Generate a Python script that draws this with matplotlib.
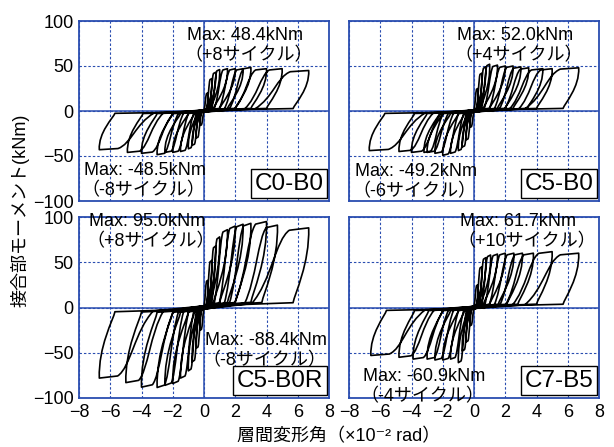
import matplotlib
matplotlib.use("Agg")
import matplotlib.pyplot as plt
from matplotlib.path import Path
from matplotlib.patches import PathPatch

plt.rcParams['font.family'] = ['Liberation Sans', 'Noto Sans CJK JP', 'DejaVu Sans']

# ---- data ----
specimens = ["C0-B0", "C5-B0", "C5-B0R", "C7-B5"]

# peak drift (x10^-2 rad) and peak moment (kNm) of each cycle
c0b0_pos_d = [0.25, 0.5, 0.75, 1.0, 1.5, 2.0, 2.5, 3.0, 4.0, 5.0, 6.7]
c0b0_pos_m = [20, 36, 43, 46, 47, 47, 47, 48.4, 47, 47, 45]
c0b0_neg_d = [-0.25, -0.5, -0.75, -1.0, -1.5, -2.0, -2.5, -3.0, -4.0, -4.9, -6.7]
c0b0_neg_m = [-16, -30, -38, -42, -45, -46, -46, -48.5, -47, -46, -43]

c5b0_pos_d = [0.25, 0.5, 0.75, 1.0, 1.5, 2.0, 2.5, 3.0, 3.5, 4.4, 5.0, 6.7]
c5b0_pos_m = [25, 42, 49, 52.0, 51, 50, 50, 49, 48, 47, 47, 48]
c5b0_neg_d = [-0.25, -0.5, -0.75, -1.0, -1.5, -2.0, -2.5, -3.0, -3.2, -4.0, -4.8, -6.7]
c5b0_neg_m = [-18, -32, -40, -44, -47, -49.2, -47, -46, -46, -46, -45, -44]

c5b0r_pos_d = [0.25, 0.5, 0.75, 1.0, 1.5, 2.0, 2.5, 3.0, 4.0, 4.7, 6.7]
c5b0r_pos_m = [30, 52, 68, 78, 86, 90, 92, 93, 95.0, 91, 88]
c5b0r_neg_d = [-0.25, -0.5, -0.75, -1.0, -1.5, -2.0, -2.5, -3.0, -4.0, -5.0, -6.7]
c5b0r_neg_m = [-25, -45, -60, -70, -78, -84, -86, -88.4, -88, -83, -78]

c7b5_pos_d = [0.25, 0.5, 0.75, 1.06, 1.5, 2.0, 2.55, 3.1, 3.8, 5.0, 6.7]
c7b5_pos_m = [25, 45, 55, 58, 59, 60, 60, 60, 60, 61.7, 60]
c7b5_neg_d = [-0.25, -0.5, -0.75, -1.0, -1.5, -2.0, -2.5, -3.0, -3.9, -4.8, -6.6]
c7b5_neg_m = [-20, -38, -48, -60.9, -57, -58, -58, -57, -57, -55, -53]

max_pos_text = ["Max: 48.4kNm", "Max: 52.0kNm", "Max: 95.0kNm", "Max: 61.7kNm"]
max_pos_cycle = ["（+8サイクル）", "（+4サイクル）", "（+8サイクル）", "（+10サイクル）"]
max_neg_text = ["Max: -48.5kNm", "Max: -49.2kNm", "Max: -88.4kNm", "Max: -60.9kNm"]
max_neg_cycle = ["（-8サイクル）", "（-6サイクル）", "（-8サイクル）", "（-4サイクル）"]

x_ticks = [-8, -6, -4, -2, 0, 2, 4, 6, 8]
y_ticks = [-100, -50, 0, 50, 100]

series = [
    (c0b0_pos_d, c0b0_pos_m, c0b0_neg_d, c0b0_neg_m),
    (c5b0_pos_d, c5b0_pos_m, c5b0_neg_d, c5b0_neg_m),
    (c5b0r_pos_d, c5b0r_pos_m, c5b0r_neg_d, c5b0r_neg_m),
    (c7b5_pos_d, c7b5_pos_m, c7b5_neg_d, c7b5_neg_m),
]


def half_cycle(sign, D, M, prev):
    """Vertices/codes of one excursion (sign=+1 positive, -1 negative)."""
    xs = 0.65 * prev
    sp = D - xs
    u = min(0.6 * D, 1.0)
    pts = [(xs, 0.05 * M),
           (xs + 0.34 * sp, 0.33 * M), (xs + 0.42 * sp, 0.85 * M), (xs + 0.66 * sp, 0.97 * M),
           (D, M),
           (D + 0.06, 0.55 * M), (D - u + 0.12, 0.18 * M), (D - u, 0.06 * M),
           (0.0, 0.02 * M)]
    codes = [Path.LINETO, Path.CURVE4, Path.CURVE4, Path.CURVE4, Path.LINETO,
             Path.CURVE4, Path.CURVE4, Path.CURVE4, Path.LINETO]
    return [(sign * x, y) for x, y in pts], codes


def hysteresis_path(pos_d, pos_m, neg_d, neg_m):
    verts = [(0.0, 0.0)]
    codes = [Path.MOVETO]
    prev_p = 0.0
    prev_n = 0.0
    for D, M, Dn, Mn in zip(pos_d, pos_m, neg_d, neg_m):
        v, c = half_cycle(1, D, M, prev_p)
        verts += v
        codes += c
        prev_p = max(prev_p, D)
        v, c = half_cycle(-1, -Dn, Mn, prev_n)
        verts += v
        codes += c
        prev_n = max(prev_n, -Dn)
    return Path(verts, codes)


W, H = 614, 447
fig = plt.figure(figsize=(W / 100, H / 100), dpi=100)

# axes rectangles in pixels (left, top, right, bottom)
rects = [(79, 21, 329, 201), (349, 21, 599, 201), (79, 217, 329, 398), (349, 217, 599, 398)]
# text anchors in pixels: (x_left, cap-top of first line)
pos_txt = [(187, 27), (457, 27), (89, 213), (460, 213)]
neg_txt = [(84, 162), (355, 163), (205, 332), (363, 368)]

blue = '#2a4db0'
fs = 13

for i, (l, t, r, b) in enumerate(rects):
    ax = fig.add_axes([l / W, 1 - b / H, (r - l) / W, (b - t) / H])
    ax.set_xlim(-8, 8)
    ax.set_ylim(-100, 100)
    ax.set_xticks(x_ticks)
    ax.set_yticks(y_ticks)
    ax.tick_params(length=0, labelsize=fs, pad=4)
    if i < 2:
        ax.set_xticklabels([])
    if i % 2 == 1:
        ax.set_yticklabels([])
    for s in ax.spines.values():
        s.set_color(blue)
        s.set_linewidth(1.3)
    ax.grid(True, color=blue, linestyle=(0, (2.2, 1.8)), linewidth=0.8)
    ax.axhline(0, color=blue, lw=1.1, zorder=1.5)
    ax.axvline(0, color=blue, lw=1.1, zorder=1.5)

    pd_, pm_, nd_, nm_ = series[i]
    ax.add_patch(PathPatch(hysteresis_path(pd_, pm_, nd_, nm_), fill=False,
                           edgecolor='black', lw=1.2, zorder=3, joinstyle='round'))

    def put(px, py, s, **kw):
        ax.text((px - l) / (r - l), 1 - (py - t) / (b - t), s, transform=ax.transAxes,
                fontsize=fs, va='baseline', ha='left', zorder=5, **kw)

    px, py = pos_txt[i]
    put(px, py + 13, max_pos_text[i])
    put(px - 3, py + 33, max_pos_cycle[i])
    px, py = neg_txt[i]
    put(px, py + 13, max_neg_text[i])
    put(px - 3, py + 33, max_neg_cycle[i])

    ax.text(0.978, 0.035, specimens[i], transform=ax.transAxes, fontsize=17.5,
            ha='right', va='bottom', zorder=6,
            bbox=dict(boxstyle='square,pad=0.15', facecolor='white', edgecolor='black', lw=1.0))

fig.text(20 / W, 1 - 210 / H, "接合部モーメント(kNm)", rotation=90, fontsize=fs,
         ha='center', va='center')
fig.text(339 / W, 1 - 437 / H, "層間変形角（×10⁻² rad）", fontsize=fs,
         ha='center', va='center')

fig.savefig("out.png", dpi=100)
